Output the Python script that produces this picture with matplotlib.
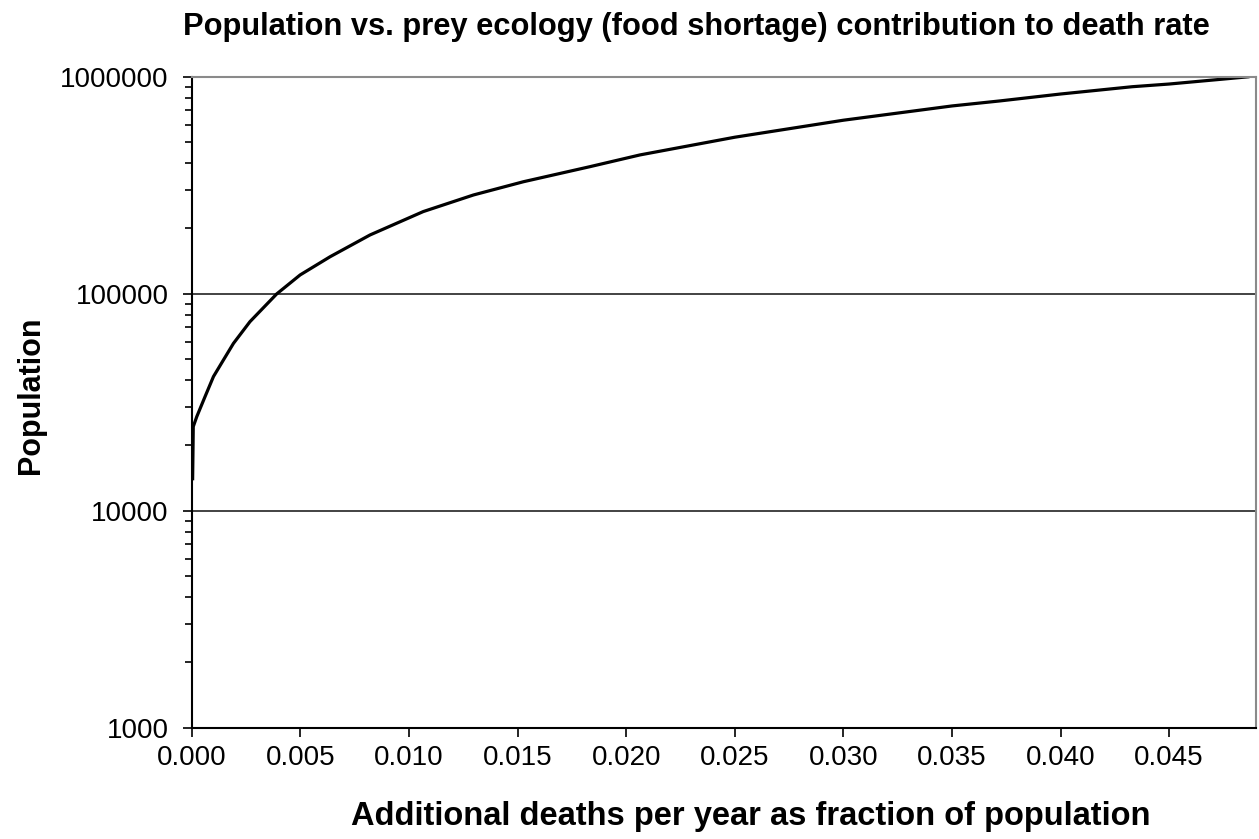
import matplotlib
matplotlib.use("Agg")
import matplotlib.pyplot as plt
from matplotlib.ticker import FixedLocator, LogLocator, NullFormatter, FuncFormatter

plt.rcParams["font.family"] = ["Liberation Sans", "DejaVu Sans"]

# extra death fraction vs. population (prey-ecology curve)
death_frac = [0.00004, 0.00006, 0.00007, 0.00023, 0.00061, 0.00100, 0.00146,
              0.00192, 0.00268, 0.00391, 0.00499, 0.00637, 0.00821, 0.01066,
              0.01297, 0.01527, 0.01834, 0.02064, 0.025, 0.030, 0.035,
              0.0372, 0.040, 0.0433, 0.045, 0.0487]
population = [13800, 20000, 24400, 27100, 33500, 41500, 49500,
              59000, 74300, 99700, 122000, 148000, 186500, 239000,
              285000, 328000, 385000, 436000, 526000, 630000, 733000,
              773000, 832000, 899000, 925000, 1000000]

x_ticks = [0.000, 0.005, 0.010, 0.015, 0.020, 0.025, 0.030, 0.035, 0.040, 0.045]
y_ticks = [1000, 10000, 100000, 1000000]

fig = plt.figure(figsize=(12.59, 8.39), dpi=100)
ax = fig.add_axes([0.1523, 0.1327, 0.8453, 0.7759])

ax.set_yscale("log")
ax.set_xlim(0, 0.049)
ax.set_ylim(1000, 1000000)

ax.yaxis.grid(True, which="major", color="#222222", lw=1.2)
ax.set_axisbelow(True)

ax.plot(death_frac, population, color="black", lw=2.3,
        solid_joinstyle="round", solid_capstyle="butt")

ax.xaxis.set_major_locator(FixedLocator(x_ticks))
ax.xaxis.set_major_formatter(FuncFormatter(lambda v, p: f"{v:.3f}"))
ax.yaxis.set_major_locator(FixedLocator(y_ticks))
ax.yaxis.set_major_formatter(FuncFormatter(lambda v, p: f"{int(round(v))}"))
ax.yaxis.set_minor_locator(LogLocator(base=10, subs=range(2, 10)))
ax.yaxis.set_minor_formatter(NullFormatter())

ax.tick_params(axis="both", which="major", direction="out", length=6.5,
               width=1.2, labelsize=20, color="black")
ax.tick_params(axis="y", which="major", pad=10)
ax.tick_params(axis="x", which="major", pad=6)
ax.tick_params(axis="y", which="minor", direction="out", length=5,
               width=1.2, color="black")

for side in ["left", "bottom"]:
    ax.spines[side].set_color("black")
    ax.spines[side].set_linewidth(1.5)
for side in ["top", "right"]:
    ax.spines[side].set_color("#8a8a8a")
    ax.spines[side].set_linewidth(1.5)

fig.text(0.553, 0.9583, "Population vs. prey ecology (food shortage) contribution to death rate",
         ha="center", va="baseline", fontsize=22.2, fontweight="bold")
fig.text(0.596, 0.0167, "Additional deaths per year as fraction of population",
         ha="center", va="baseline", fontsize=23.5, fontweight="bold")
fig.text(0.025, 0.529, "Population", rotation=90,
         ha="center", va="center", fontsize=22, fontweight="bold")

fig.savefig("out.png", dpi=100)
